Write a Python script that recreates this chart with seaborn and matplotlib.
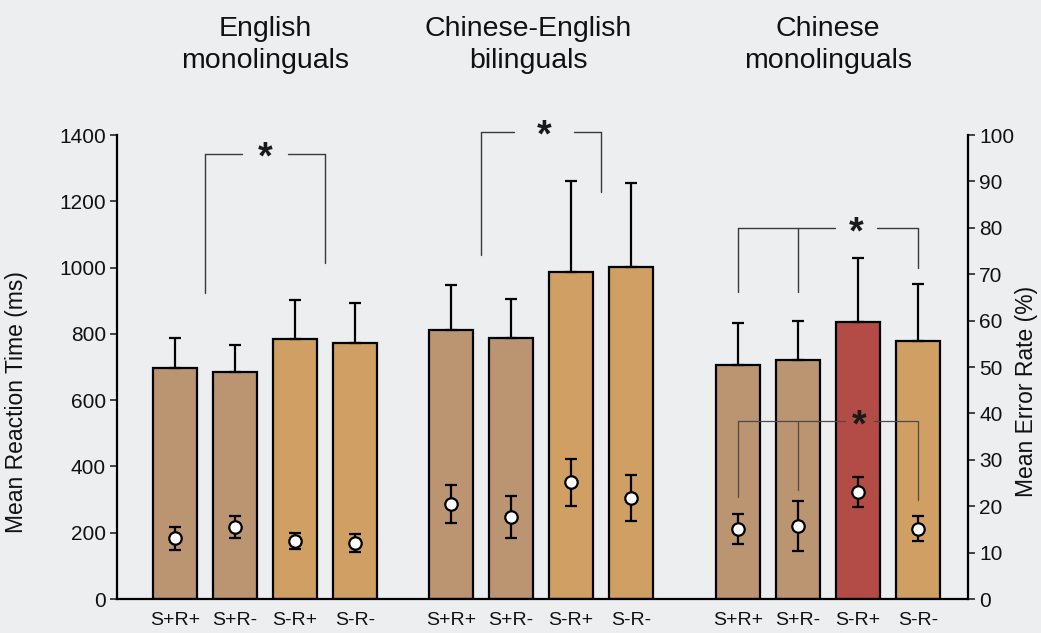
import numpy as np
import pandas as pd
import matplotlib
matplotlib.use("Agg")
import matplotlib.pyplot as plt
import seaborn as sns

# ---- data -------------------------------------------------------------
groups = ["English\nmonolinguals", "Chinese-English\nbilinguals", "Chinese\nmonolinguals"]
conditions = ["S+R+", "S+R-", "S-R+", "S-R-"]

# mean reaction time (ms) and its upper error (ms), per group x condition
rt_english = [697, 685, 785, 772]
rt_bilingual = [812, 789, 988, 1002]
rt_chinese = [706, 721, 837, 779]
rt_err_english = [91, 81, 117, 121]
rt_err_bilingual = [134, 116, 274, 253]
rt_err_chinese = [126, 117, 192, 170]

# mean error rate (%) and its error (%)
er_english = [13.1, 15.5, 12.5, 12.1]
er_bilingual = [20.5, 17.7, 25.2, 21.8]
er_chinese = [15.1, 15.8, 23.1, 15.1]
er_err_english = [2.5, 2.3, 1.8, 2.0]
er_err_bilingual = [4.1, 4.45, 5.05, 4.95]
er_err_chinese = [3.25, 5.4, 3.2, 2.7]

# bar colour category per condition (Chinese S-R+ highlighted)
kinds_english = ["S+", "S+", "S-", "S-"]
kinds_bilingual = ["S+", "S+", "S-", "S-"]
kinds_chinese = ["S+", "S+", "hl", "S-"]

# ---- layout -----------------------------------------------------------
group_offsets = [0.0, 4.6, 9.38]
palette = {"S+": "#bb9471", "S-": "#d09f63", "hl": "#b34b47"}
bg = "#eceef0"

rows = []
for g, off, rts, rte, ers, ere, kinds in zip(
        groups, group_offsets,
        [rt_english, rt_bilingual, rt_chinese],
        [rt_err_english, rt_err_bilingual, rt_err_chinese],
        [er_english, er_bilingual, er_chinese],
        [er_err_english, er_err_bilingual, er_err_chinese],
        [kinds_english, kinds_bilingual, kinds_chinese]):
    for i, c in enumerate(conditions):
        rows.append(dict(group=g, cond=c, pos=off + i, rt=rts[i], rt_err=rte[i],
                         er=ers[i], er_err=ere[i], kind=kinds[i]))
df = pd.DataFrame(rows)

sns.set_theme(style="white")
plt.rcParams["font.family"] = ["Liberation Sans", "DejaVu Sans"]

fig = plt.figure(figsize=(10.41, 6.33), dpi=100, facecolor=bg)
ax = fig.add_axes([0.1124, 0.0537, 0.8175, 0.733])
ax.set_facecolor(bg)

sns.barplot(data=df, x="pos", y="rt", hue="kind", palette=palette,
            native_scale=True, dodge=False, width=0.733, legend=False,
            edgecolor="black", linewidth=1.6, saturation=1, ax=ax, zorder=2)
ax.errorbar(df["pos"], df["rt"], yerr=[np.zeros(len(df)), df["rt_err"]],
            fmt="none", ecolor="black", elinewidth=1.6, capsize=4.5,
            capthick=1.6, zorder=3)

ax.set_xlim(-0.967, 9.38 + 3 + 0.833)
ax.set_ylim(0, 1400)
ax.set_yticks(np.arange(0, 1401, 200))
ax.set_xticks(df["pos"])
ax.set_xticklabels(df["cond"])
ax.tick_params(axis="x", length=0, pad=9, labelsize=14, labelcolor="#111111")
ax.tick_params(axis="y", direction="out", length=5, width=1.2, labelsize=15,
               left=True, pad=3, labelcolor="#111111")
ax.set_xlabel("")
ax.set_ylabel("")
for s in ["top", "right"]:
    ax.spines[s].set_visible(False)
for s in ["left", "bottom"]:
    ax.spines[s].set_color("black")
    ax.spines[s].set_linewidth(1.6)

# error-rate points on the secondary axis
ax2 = ax.twinx()
ax2.set_ylim(0, 100)
ax2.errorbar(df["pos"], df["er"], yerr=df["er_err"], fmt="none",
             ecolor="black", elinewidth=1.6, capsize=4, capthick=1.6, zorder=4)
sns.scatterplot(x=df["pos"], y=df["er"], ax=ax2, marker="o", s=80,
                color="white", edgecolor="black", linewidth=1.6, zorder=5)
ax2.set_yticks(np.arange(0, 101, 10))
ax2.tick_params(axis="y", direction="out", length=5, width=1.2, labelsize=15,
                right=True, pad=3, labelcolor="#111111")
ax2.set_ylabel("")
for s in ["top", "left", "bottom"]:
    ax2.spines[s].set_visible(False)
ax2.spines["right"].set_color("black")
ax2.spines["right"].set_linewidth(1.6)

# axis titles
fig.text(17 / 1041, 1 - 402 / 633, "Mean Reaction Time (ms)", rotation=90,
         ha="center", va="center", fontsize=16.5, color="#111111")
fig.text(1027 / 1041, 1 - 391 / 633, "Mean Error Rate (%)", rotation=90,
         ha="center", va="center", fontsize=16.5, color="#111111")


def bracket(legs, bottoms, top, star_x, gap, color="#3a3a3a", lw=1.0,
            star_dy=-15):
    """Significance bracket in reaction-time units with a gap for the star."""
    for x, b in zip(legs, bottoms):
        ax.plot([x, x], [b, top], color=color, lw=lw, zorder=4, clip_on=False)
    ax.plot([legs[0], star_x - gap], [top, top], color=color, lw=lw,
            zorder=4, clip_on=False)
    ax.plot([star_x + gap, legs[-1]], [top, top], color=color, lw=lw,
            zorder=4, clip_on=False)
    ax.text(star_x, top + star_dy, "*", ha="center", va="center",
            fontsize=27, fontweight="bold", color="#1a1a1a", zorder=6,
            clip_on=False)


p = df["pos"].to_numpy()
bracket([(p[0] + p[1]) / 2, (p[2] + p[3]) / 2], [923, 1014], 1343,
        1.5, 0.38)
bracket([(p[4] + p[5]) / 2, (p[6] + p[7]) / 2], [1038, 1228], 1410,
        p[4] + 1.55, 0.5)
bracket([p[8], p[9], p[11]], [926, 926, 999], 1119, p[8] + 1.97, 0.35)
bracket([p[8], p[9], p[11]], [308, 329, 299], 537, p[8] + 2.02, 0.24,
        color="#4a4a4a", lw=0.9)

# group titles
centers_px = [265, 528, 828]
for g, cx in zip(groups, centers_px):
    fig.text(cx / 1041, 1 - 16 / 633, g, ha="center", va="top",
             fontsize=20.5, linespacing=1.3, color="#111111")

fig.savefig("out.png", dpi=100, facecolor=bg)
